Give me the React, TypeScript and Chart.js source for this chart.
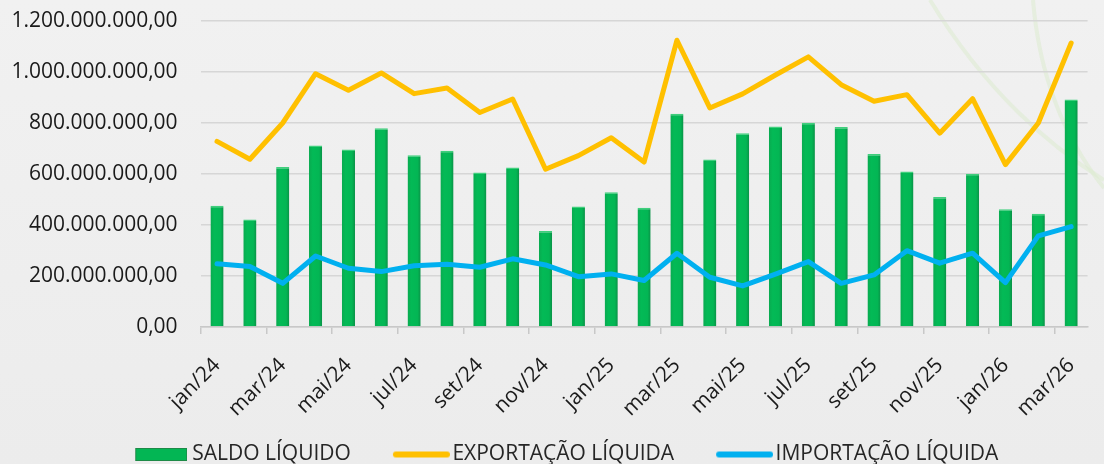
import React, { useEffect, useRef } from "react";
import { Chart, registerables } from "chart.js";

Chart.register(...registerables);

const months = [
  "jan/24", "fev/24", "mar/24", "abr/24", "mai/24", "jun/24", "jul/24", "ago/24", "set/24",
  "out/24", "nov/24", "dez/24", "jan/25", "fev/25", "mar/25", "abr/25", "mai/25", "jun/25",
  "jul/25", "ago/25", "set/25", "out/25", "nov/25", "dez/25", "jan/26", "fev/26", "mar/26",
];

// values in millions
const saldoLiquido = [
  475, 421, 627, 711, 695, 778, 673, 690, 605, 625, 376, 472, 528, 467, 835, 656, 759, 785,
  800, 783, 678, 609, 509, 600, 461, 444, 891,
];
const exportacaoLiquida = [
  727, 657, 799, 992, 927, 995, 914, 936, 840, 893, 618, 671, 741, 646, 1123, 858, 913, 987,
  1058, 949, 884, 910, 759, 894, 636, 799, 1112,
];
const importacaoLiquida = [
  248, 237, 171, 278, 230, 217, 240, 246, 234, 267, 243, 197, 208, 182, 289, 195, 161, 207,
  256, 171, 204, 299, 250, 289, 174, 357, 393,
];

const yTicks = [0, 200, 400, 600, 800, 1000, 1200];

const legendNames = ["SALDO LÍQUIDO", "EXPORTAÇÃO LÍQUIDA", "IMPORTAÇÃO LÍQUIDA"];

const MILLION = 1000000;

const GREEN = "#03b654";
const GREEN_EDGE = "#1d8a47";
const ORANGE = "#ffc000";
const BLUE = "#00b0f0";

function fmtBR(v: number): string {
  const s = Math.round(v).toString().replace(/\B(?=(\d{3})+(?!\d))/g, ".");
  return s + ",00";
}

const FONT = "'Open Sans', 'Noto Sans', sans-serif";

function makeBoxMarker(): HTMLCanvasElement {
  const c = document.createElement("canvas");
  c.width = 66;
  c.height = 13;
  const g = c.getContext("2d")!;
  g.fillStyle = GREEN;
  g.fillRect(14, 0, 52, 13);
  g.strokeStyle = GREEN_EDGE;
  g.lineWidth = 1;
  g.strokeRect(14.5, 0.5, 51, 12);
  return c;
}

function makeLineMarker(color: string): HTMLCanvasElement {
  const c = document.createElement("canvas");
  c.width = 71;
  c.height = 8;
  const g = c.getContext("2d")!;
  g.strokeStyle = color;
  g.lineWidth = 6;
  g.lineCap = "round";
  g.beginPath();
  g.moveTo(17, 4);
  g.lineTo(68, 4);
  g.stroke();
  return c;
}

// nudge the legend to the right and let the rotated x labels extend below the axis box
const layoutTweak = {
  id: "layoutTweak",
  afterLayout(chart: any) {
    if (chart.legend) {
      chart.legend.left += 18.5;
    }
    if (chart.scales && chart.scales.x) {
      chart.scales.x.bottom += 25;
    }
  },
};

function barFill(ctx: any) {
  const chart = ctx.chart;
  const xs = chart && chart.scales && chart.scales.x;
  if (!xs || ctx.dataIndex === undefined) return GREEN;
  const cx = xs.getPixelForValue(ctx.dataIndex);
  if (!isFinite(cx)) return GREEN;
  const g = chart.ctx.createLinearGradient(cx - 7, 0, cx + 7, 0);
  g.addColorStop(0, "#0aa84f");
  g.addColorStop(0.3, "#03ba56");
  g.addColorStop(0.75, "#03b654");
  g.addColorStop(1, "#0b8c45");
  return g;
}

export default function App() {
  const ref = useRef<HTMLCanvasElement | null>(null);

  useEffect(() => {
    if (!ref.current) return;
    const markers = [makeBoxMarker(), makeLineMarker(ORANGE), makeLineMarker(BLUE)];
    const chart = new Chart(ref.current, {
      type: "bar",
      plugins: [layoutTweak],
      data: {
        labels: months,
        datasets: [
          {
            type: "bar",
            label: legendNames[0],
            data: saldoLiquido.map((v) => v * MILLION),
            backgroundColor: barFill,
            borderColor: "#3fcf7c",
            borderWidth: { top: 1.5, right: 0, left: 0, bottom: 0 },
            barPercentage: 0.8,
            categoryPercentage: 0.5,
            order: 1,
          } as any,
          {
            type: "line",
            label: legendNames[1],
            data: exportacaoLiquida.map((v) => v * MILLION),
            borderColor: ORANGE,
            backgroundColor: ORANGE,
            borderWidth: 5,
            pointRadius: 0,
            tension: 0,
            borderJoinStyle: "round",
            borderCapStyle: "round",
            order: 0,
          } as any,
          {
            type: "line",
            label: legendNames[2],
            data: importacaoLiquida.map((v) => v * MILLION),
            borderColor: BLUE,
            backgroundColor: BLUE,
            borderWidth: 5,
            pointRadius: 0,
            tension: 0,
            borderJoinStyle: "round",
            borderCapStyle: "round",
            order: 0,
          } as any,
        ],
      },
      options: {
        animation: false,
        responsive: true,
        maintainAspectRatio: false,
        layout: { padding: { top: 0, left: 0, right: 1.5, bottom: 0 } },
        plugins: {
          tooltip: { enabled: false },
          legend: {
            position: "bottom",
            labels: {
              usePointStyle: true,
              pointStyleWidth: 55,
              boxHeight: 13,
              padding: 36,
              color: "#262626",
              font: { family: FONT, size: 21 },
              sort: (a: any, b: any) => a.datasetIndex - b.datasetIndex,
              generateLabels: (chart: any) => {
                const items = Chart.defaults.plugins.legend.labels.generateLabels(chart);
                return items.map((it: any) => ({
                  ...it,
                  pointStyle: markers[it.datasetIndex],
                }));
              },
            },
          },
        },
        scales: {
          x: {
            offset: true,
            afterFit: (scale: any) => {
              scale.height = 81;
            },
            grid: {
              display: true,
              drawOnChartArea: false,
              drawTicks: true,
              tickLength: 7,
              color: (ctx: any) => (ctx.index % 2 === 0 ? "#c8c8c8" : "rgba(0,0,0,0)"),
              lineWidth: 1.5,
            },
            border: { display: true, color: "#c8c8c8", width: 1.5 },
            ticks: {
              autoSkip: false,
              maxRotation: 45,
              minRotation: 45,
              padding: 19,
              color: "#1a1a1a",
              font: { family: FONT, size: 21 },
              callback: (_v: any, i: number) => (i % 2 === 0 ? months[i] : ""),
            },
          },
          y: {
            min: 0,
            max: yTicks[yTicks.length - 1] * MILLION,
            afterFit: (scale: any) => {
              scale.width = 200.6;
            },
            afterBuildTicks: (scale: any) => {
              scale.ticks = yTicks.map((v) => ({ value: v * MILLION }));
            },
            grid: {
              color: "#d6d6d6",
              lineWidth: 1.5,
              drawTicks: true,
              tickLength: 15,
              tickColor: "rgba(0,0,0,0)",
            },
            border: { display: false },
            ticks: {
              padding: 8,
              color: "#1a1a1a",
              font: { family: FONT, size: 21 },
              callback: (v: any) => fmtBR(Number(v)),
            },
          },
        },
      },
    } as any);
    return () => chart.destroy();
  }, []);

  return (
    <div
      style={{
        position: "fixed",
        left: 0,
        top: 0,
        width: 1104,
        height: 464,
        overflow: "hidden",
        background: "linear-gradient(180deg, #f1f1f1 0%, #ececec 100%)",
      }}
    >
      <svg width={1104} height={464} style={{ position: "absolute", left: 0, top: 0 }}>
        <path d="M930 0 Q 1000 115 1104 180" stroke="#dcebd0" strokeWidth={4} fill="none" opacity={0.55} />
        <path d="M1033 0 Q 1042 110 1104 188" stroke="#dcebd0" strokeWidth={4} fill="none" opacity={0.55} />
      </svg>
      <div style={{ position: "absolute", left: 0, top: 0, width: 1108, height: 475 }}>
        <canvas ref={ref} />
      </div>
    </div>
  );
}
